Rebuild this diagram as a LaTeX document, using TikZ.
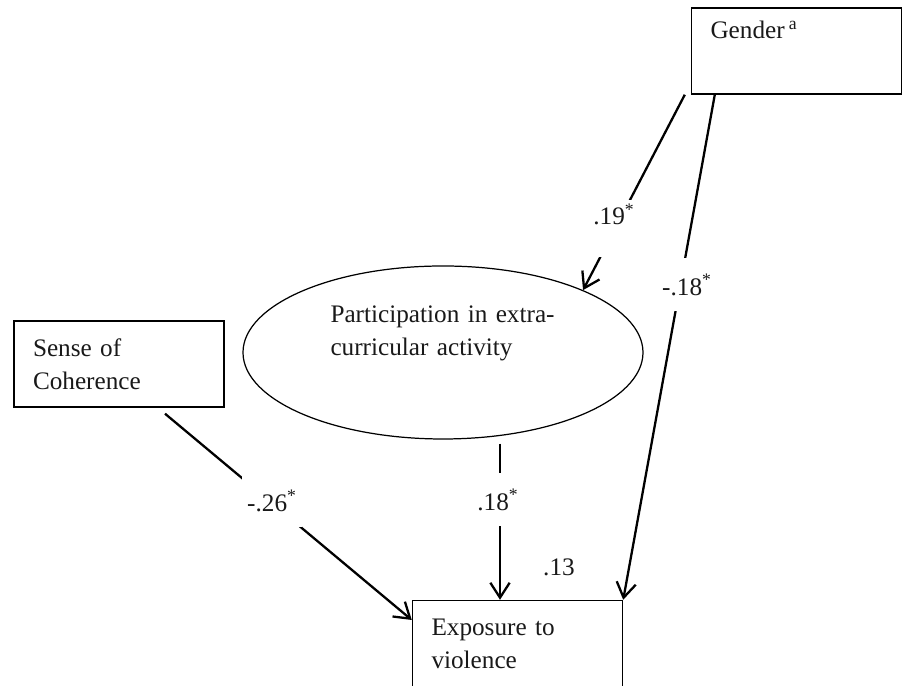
\documentclass[tikz,border=0pt]{standalone}
\usepackage{fontspec}
\setmainfont{Liberation Serif}
\usetikzlibrary{shapes.geometric,arrows.meta}
\definecolor{inkgray}{RGB}{25,25,25}

\begin{document}
\begin{tikzpicture}[font=\fontsize{14.35}{18.8}\selectfont, text=inkgray,
  varbox/.style={draw, line width=0.8pt, text width=3.44cm, inner xsep=0.38cm, inner ysep=0pt, minimum height=1.72cm, align=left},
  effect/.style={line width=1.3pt, -{Straight Barb[length=8.5pt, width=11pt]}},
  coef/.style={fill=white, inner xsep=1pt, inner ysep=0pt, minimum height=1.06cm}]
\useasboundingbox (0,0) rectangle (18.06,13.72);

% Observed variables
\node[varbox] (gender) at (15.93, 12.70) {Gender\,\textsuperscript{a}\\ \strut};
\node[varbox] (sense) at (2.38, 6.44) {Sense of\\Coherence};
\node[varbox] (expo) at (10.35, 0.85) {Exposure to\\violence};

% Mediator
\node[ellipse, draw, line width=0.7pt, minimum width=8cm, minimum height=3.46cm, inner sep=0pt, text width=4.5cm, align=left] (partic) at (8.86, 6.67) {Participation in extra-\\curricular activity\\ \strut};

% Paths
\draw[effect] ([xshift=-0.12cm]gender.south west) -- (partic.24);
\draw[effect] ([xshift=0.48cm]gender.south west) -- (expo.north east);
\draw[effect] ([xshift=0.92cm, yshift=-0.12cm]sense.south) -- ([yshift=0.47cm]expo.west);
\draw[effect] ([xshift=1.14cm, yshift=-0.08cm]partic.south) -- ([xshift=-0.35cm]expo.north);

% Coefficients
\node[coef, minimum height=0pt, text height=0.5cm, text depth=0.64cm, anchor=base] (c19) at (12.28, 9.22) {.19\textsuperscript{*}};
\node[coef] (c18g) at (13.74, 8.02) {-.18\textsuperscript{*}};
\node[coef, minimum width=1.2cm] (c26) at (5.44, 3.70) {-.26\textsuperscript{*}};
\node[coef] (c18p) at (9.96, 3.72) {.18\textsuperscript{*}};
\node (rsq) at (11.18, 2.38) {.13};
\end{tikzpicture}
\end{document}
